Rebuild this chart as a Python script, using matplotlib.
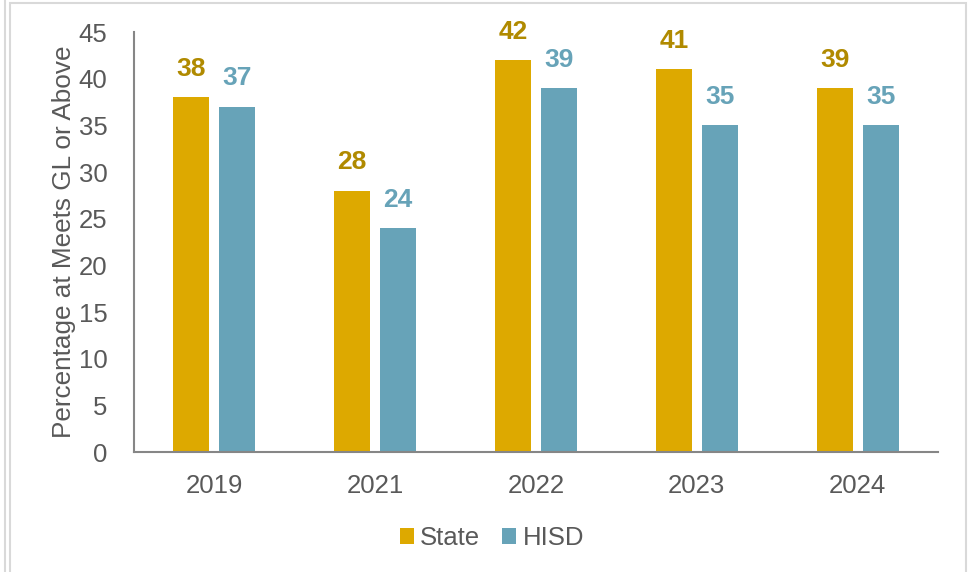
import matplotlib
matplotlib.use("Agg")
import matplotlib.pyplot as plt
from matplotlib.lines import Line2D
from matplotlib.patches import Rectangle
import numpy as np

plt.rcParams['font.family'] = ['Liberation Sans', 'DejaVu Sans']

years = ["2019", "2021", "2022", "2023", "2024"]
state = [38, 28, 42, 41, 39]
hisd = [37, 24, 39, 35, 35]
series_names = ["State", "HISD"]

STATE_COLOR = "#DDA900"
HISD_COLOR = "#67A3B8"
STATE_LABEL = "#B08A00"
HISD_LABEL = "#67A3B8"
TEXT = "#595959"
AXIS = "#868686"
FS = 18.5

W, H = 972, 572
fig = plt.figure(figsize=(W / 100, H / 100), dpi=100)

# outer chart frame
fig.add_artist(Rectangle((10 / W, -0.05), (966 - 10) / W, (H - 3) / H + 0.05,
                         transform=fig.transFigure, fill=False,
                         edgecolor="#D9D9D9", linewidth=1.5))
fig.add_artist(Line2D([4.5 / W, 4.5 / W], [0, 1], transform=fig.transFigure,
                      color="#D9D9D9", linewidth=1.5))

left, right, top, bottom = 134, 938, 32, 452
ax = fig.add_axes([left / W, 1 - bottom / H, (right - left) / W, (bottom - top) / H])

x = np.arange(len(years))
bw = 0.224
off = 0.143
b1 = ax.bar(x - off, state, bw, color=STATE_COLOR, label=series_names[0])
b2 = ax.bar(x + off, hisd, bw, color=HISD_COLOR, label=series_names[1])

for bars, vals, col in ((b1, state, STATE_LABEL), (b2, hisd, HISD_LABEL)):
    for rect, v in zip(bars, vals):
        ax.annotate(f"{v}", (rect.get_x() + rect.get_width() / 2, v),
                    xytext=(0, 20.5), textcoords="offset points",
                    ha="center", va="center", fontsize=19,
                    fontweight="bold", color=col)

ax.set_xlim(-0.5, len(years) - 0.5)
ax.set_ylim(0, 45)
ax.set_yticks(np.arange(0, 46, 5))
ax.set_xticks(x)
ax.set_xticklabels(years)
ax.tick_params(axis="both", length=0, labelsize=FS, labelcolor=TEXT)
ax.tick_params(axis="x", pad=16)
ax.tick_params(axis="y", pad=19)

for s in ("top", "right"):
    ax.spines[s].set_visible(False)
for s in ("left", "bottom"):
    ax.spines[s].set_color(AXIS)
    ax.spines[s].set_linewidth(1.5)

ax.set_ylabel("Percentage at Meets GL or Above", fontsize=18.8, color=TEXT)
ax.yaxis.set_label_coords((76 - left) / (right - left), 0.5)

leg = fig.legend(handles=[b1, b2], labels=series_names, loc="center",
                 bbox_to_anchor=(492 / W, 1 - 538 / H), ncol=2, frameon=False,
                 fontsize=FS, handlelength=0.55, handleheight=0.55,
                 handletextpad=0.25, columnspacing=0.85)
for t in leg.get_texts():
    t.set_color(TEXT)

fig.savefig("out.png", dpi=100)
